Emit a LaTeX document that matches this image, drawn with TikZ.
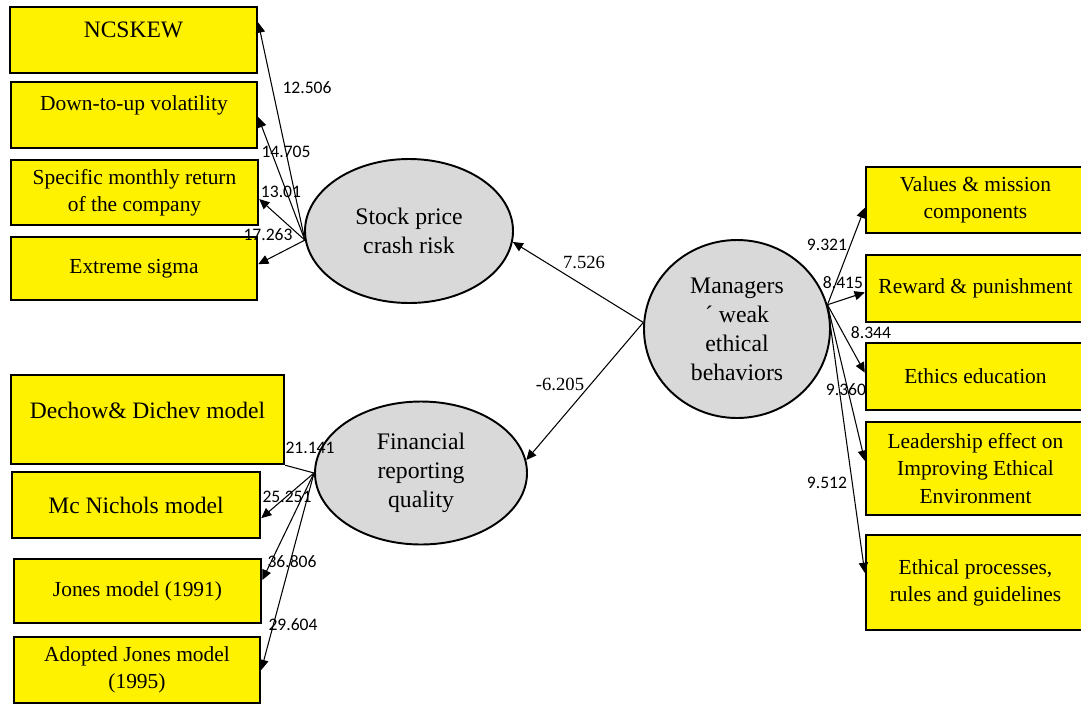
\documentclass[tikz,border=0pt]{standalone}
\usepackage{fontspec}
\setmainfont{Liberation Serif}
\newfontfamily\coeffont{Carlito}
\usetikzlibrary{shapes.geometric,arrows.meta}

\begin{document}
\begin{tikzpicture}[
  indicator/.style={draw=black,fill=yellow,line width=1.4pt,inner sep=0pt,align=center,font=\fontsize{12.2}{15.5}\selectfont},
  bigtext/.style={font=\fontsize{13.4}{16}\selectfont},
  raised/.style={text height=8pt,text depth=#1},
  latent/.style={ellipse,draw=black,fill=black!15,line width=1.1pt,inner sep=0pt,align=center,font=\fontsize{13.5}{16.5}\selectfont},
  load/.style={-{Triangle[length=5.8pt,width=5.2pt]},line width=0.6pt},
  coef/.style={font=\coeffont\fontsize{10}{12}\selectfont,inner sep=0pt},
  coefserif/.style={font=\fontsize{10.6}{12}\selectfont,inner sep=0pt}
]
\useasboundingbox (0,0) rectangle (21.620,-14.080);
\node[indicator,bigtext,raised=11.4pt,minimum width=4.94cm,minimum height=1.32cm] (ncskew) at (2.670,-0.800) {NCSKEW};
\node[indicator,raised=13pt,minimum width=4.92cm,minimum height=1.32cm] (downup) at (2.680,-2.300) {Down-to-up volatility};
\node[indicator,minimum width=4.94cm,minimum height=1.30cm] (monthly) at (2.690,-3.850) {Specific monthly return\\of the company};
\node[indicator,minimum width=4.92cm,minimum height=1.26cm] (sigma) at (2.680,-5.370) {Extreme sigma};
\node[indicator,bigtext,raised=8.6pt,minimum width=5.46cm,minimum height=1.78cm] (dechow) at (2.950,-8.390) {Dechow\& Dichev model};
\node[indicator,bigtext,minimum width=4.96cm,minimum height=1.32cm] (mcnichols) at (2.720,-10.100) {Mc Nichols model};
\node[indicator,minimum width=4.94cm,minimum height=1.28cm] (jones) at (2.750,-11.820) {Jones model (1991)};
\node[indicator,minimum width=4.92cm,minimum height=1.32cm] (adopted) at (2.740,-13.400) {Adopted Jones model\\(1995)};
\node[indicator,minimum width=4.38cm,minimum height=1.32cm] (values) at (19.510,-4.000) {Values \& mission\\components};
\node[indicator,minimum width=4.38cm,minimum height=1.34cm] (reward) at (19.510,-5.770) {Reward \& punishment};
\node[indicator,minimum width=4.38cm,minimum height=1.34cm] (ethicsedu) at (19.510,-7.530) {Ethics education};
\node[indicator,minimum width=4.38cm,minimum height=1.86cm] (leadership) at (19.510,-9.370) {Leadership effect on\\Improving Ethical\\Environment};
\node[indicator,minimum width=4.38cm,minimum height=1.90cm] (processes) at (19.510,-11.650) {Ethical processes,\\rules and guidelines};
\node[latent,minimum width=4.16cm,minimum height=2.88cm] (crash) at (8.180,-4.620) {Stock price\\crash risk};
\node[latent,minimum width=4.24cm,minimum height=2.86cm] (frq) at (8.420,-9.460) {Financial\\reporting\\quality};
\node[latent,minimum width=3.72cm,minimum height=3.56cm] (managers) at (14.740,-6.580) {Managers\\\char"00B4\ weak\\ethical\\behaviors};
\draw[load] (crash.185) -- (ncskew.8);
\draw[load] (crash.185) -- (downup.-1);
\draw[load] (crash.185) -- (monthly.-3);
\draw[load] (crash.185) -- (sigma.2);
\draw[line width=0.6pt] (frq.west) -- (dechow.south east);
\draw[load] (frq.west) -- (mcnichols.-6);
\draw[load] (frq.west) -- (jones.5);
\draw[load] (frq.west) -- (adopted.east);
\draw[load] (managers.176) -- (crash.-6);
\draw[load] (managers.176) -- (frq.7);
\draw[load] (managers.15) -- (values.184);
\draw[load] (managers.15) -- (reward.182);
\draw[load] (managers.15) -- (ethicsedu.178);
\draw[load] (managers.15) -- (leadership.176);
\draw[load] (managers.15) -- (processes.175);
\node[coef] (c1) at (6.140,-1.760) {12.506};
\node[coef] (c2) at (5.720,-3.040) {14.705};
\node[coef] (c3) at (5.620,-3.840) {13.01};
\node[coef] (c4) at (5.360,-4.700) {17.263};
\node[coefserif] (c5) at (11.680,-5.240) {7.526};
\node[coefserif] (c6) at (11.200,-7.680) {-6.205};
\node[coef] (c7) at (6.200,-8.960) {21.141};
\node[coef] (c8) at (5.740,-9.940) {25.251};
\node[coef] (c9) at (5.840,-11.240) {36.806};
\node[coef] (c10) at (5.860,-12.500) {29.604};
\node[coef] (c11) at (16.540,-4.900) {9.321};
\node[coef] (c12) at (16.860,-5.660) {8.415};
\node[coef] (c13) at (17.420,-6.660) {8.344};
\node[coef] (c14) at (16.920,-7.800) {9.360};
\node[coef] (c15) at (16.540,-9.660) {9.512};
\end{tikzpicture}
\end{document}
